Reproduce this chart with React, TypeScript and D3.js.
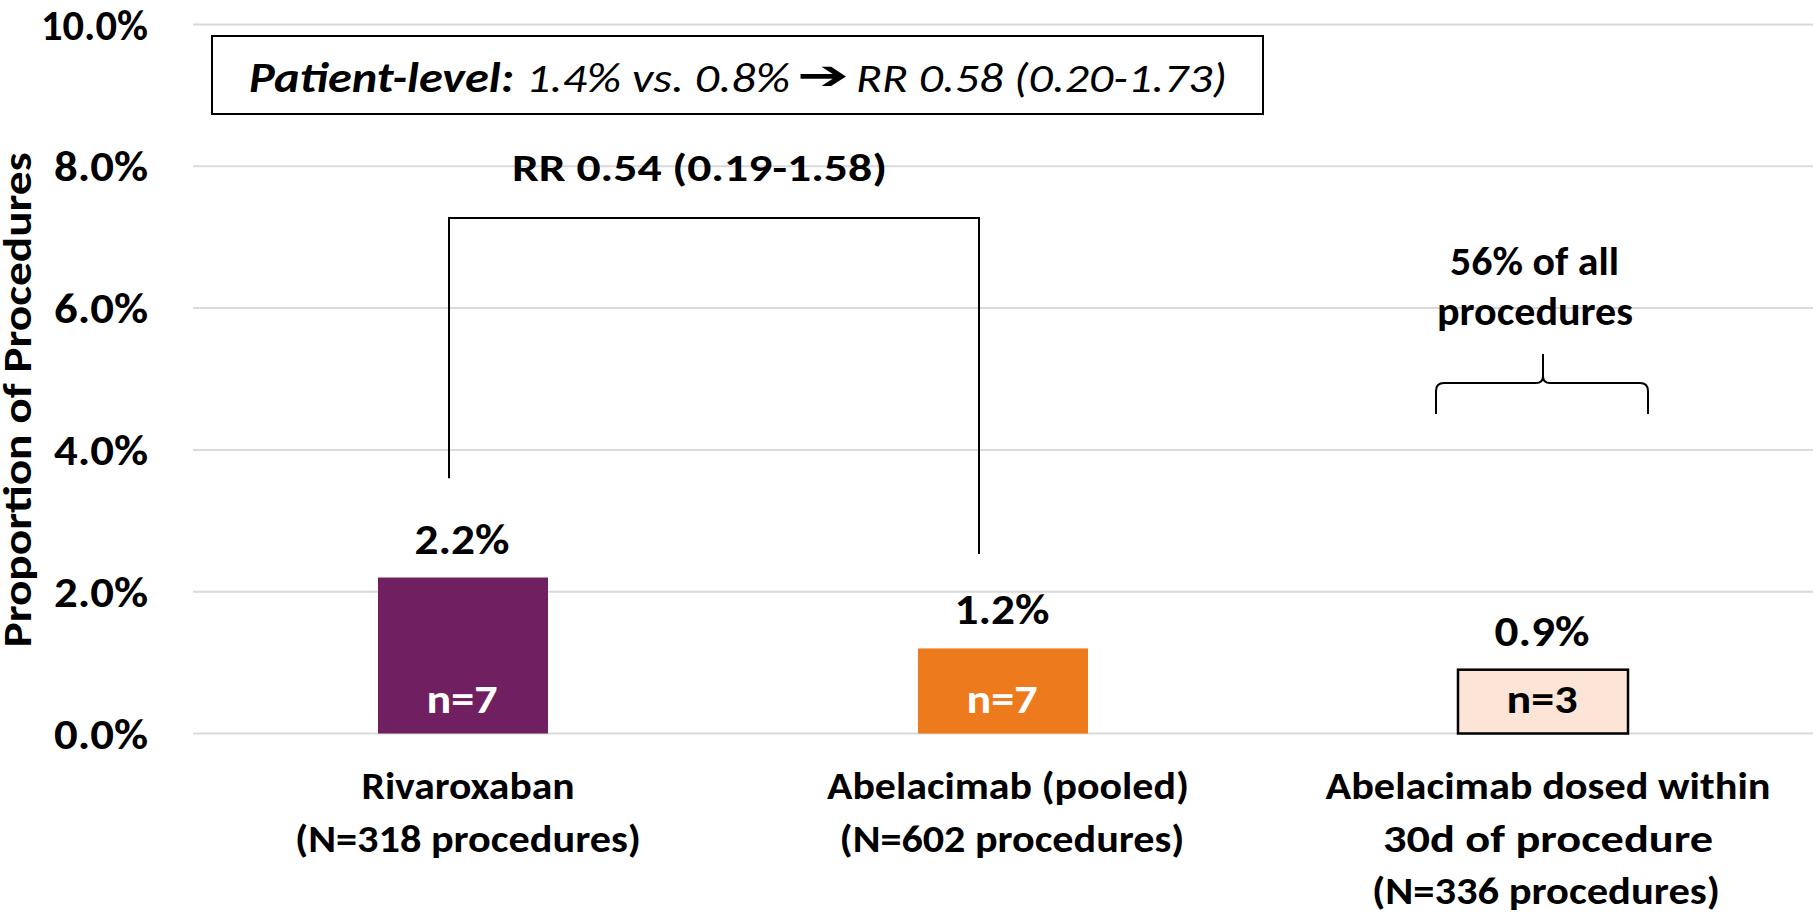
import React, { useEffect } from "react";
import * as d3 from "d3";

// Bleeding events per procedure, by treatment group
const groups = ["riva", "abel-pooled", "abel-30d"];
const groupLabels = [
  ["Rivaroxaban", "(N=318 procedures)"],
  ["Abelacimab (pooled)", "(N=602 procedures)"],
  ["Abelacimab dosed within", "30d of procedure", "(N=336 procedures)"],
];
const rates = [2.2, 1.2, 0.9]; // % of procedures
const eventCounts = [7, 7, 3];
const yTicks = [0, 2, 4, 6, 8, 10];

// ---- presentation ----
const W = 1813;
const H = 913;
const FONT = "Carlito, Lato, 'Open Sans', sans-serif";

const barFills = ["#701F60", "#EE7A1E", "#FCE4D6"];
const barStrokes = ["none", "none", "#000"];
const countColors = ["#fff", "#fff", "#000"];

// rendered text widths, so the narrow face lines up across fonts
const groupLabelWidths = [
  [213, 346],
  [362, 345],
  [445, 330, 348],
];
const groupLabelShift = [
  [5, 5],
  [5, 9],
  [5, 5, 3],
];

type TProps = {
  x: number;
  y: number;
  w?: number;
  size?: number;
  anchor?: "start" | "middle" | "end";
  fill?: string;
  weight?: string;
  italic?: boolean;
  family?: string;
  transform?: string;
  children: React.ReactNode;
};

function T({ x, y, w, size = 40, anchor = "middle", fill = "#000", weight = "bold", italic, family, transform, children }: TProps) {
  return (
    <text
      x={x}
      y={y}
      transform={transform}
      textAnchor={anchor}
      fontSize={size}
      fill={fill}
      fontWeight={weight}
      fontStyle={italic ? "italic" : "normal"}
      fontFamily={family ?? FONT}
      textLength={w}
      lengthAdjust={w ? "spacingAndGlyphs" : undefined}
    >
      {children}
    </text>
  );
}

export default function App() {
  useEffect(() => {
    document.body.style.margin = "0";
    document.body.style.overflow = "hidden";
  }, []);

  const x = d3
    .scaleBand<string>()
    .domain(groups)
    .range([193, 1813])
    .paddingInner(1 - 170 / 540)
    .paddingOuter((1 - 170 / 540) / 2);
  const y = d3.scaleLinear().domain([0, 10]).range([733.5, 24.5]);
  const cx = (i: number) => (x(groups[i]) as number) + x.bandwidth() / 2;
  const fmt = (v: number) => d3.format(".1f")(v) + "%";

  // RR bracket between the first two groups
  const bracketTop = y(7.27);
  const leftLeg = { x: cx(0) - 14, bottom: y(3.6) };
  const rightLeg = { x: cx(1) - 24, bottom: y(2.53) };

  // Curly brace above the third group
  const bx = cx(2);
  const bL = bx - 107;
  const bR = bx + 105;
  const bY = 383;
  const bLeg = 414;
  const bTip = 354;
  const r = 8;
  const bracePath = [
    `M${bL},${bLeg} L${bL},${bY + r} Q${bL},${bY} ${bL + r},${bY}`,
    `L${bx - 7},${bY} Q${bx},${bY} ${bx},${bY - 7} L${bx},${bTip}`,
    `M${bx},${bY - 7} Q${bx},${bY} ${bx + 7},${bY}`,
    `L${bR - r},${bY} Q${bR},${bY} ${bR},${bY + r} L${bR},${bLeg}`,
  ].join(" ");

  return (
    <svg width={W} height={H} style={{ position: "absolute", left: 0, top: 0, background: "#fff" }}>
      {/* gridlines */}
      {yTicks.map((t) => (
        <line key={"g" + t} x1={193} x2={1813} y1={y(t)} y2={y(t)} stroke="#d9d9d9" strokeWidth={2} />
      ))}
      {/* tick labels */}
      {yTicks.map((t) => (
        <T key={"t" + t} x={148} y={y(t) + 15} anchor="end" size={43} w={t >= 10 ? 107 : 94}>
          {fmt(t)}
        </T>
      ))}
      {/* axis title */}
      <T x={0} y={0} size={41} w={495} transform="translate(31,400) rotate(-90)">
        Proportion of Procedures
      </T>

      {/* bars */}
      {rates.map((v, i) => (
        <rect
          key={"b" + i}
          x={x(groups[i])}
          y={y(v)}
          width={x.bandwidth()}
          height={y(0) - y(v)}
          fill={barFills[i]}
          stroke={barStrokes[i]}
          strokeWidth={2.5}
        />
      ))}
      {/* value labels */}
      {rates.map((v, i) => (
        <T key={"v" + i} x={cx(i) - 1} y={y(v) - 24} size={42} w={95}>
          {fmt(v)}
        </T>
      ))}
      {/* event counts */}
      {eventCounts.map((n, i) => (
        <T key={"n" + i} x={cx(i) - 1} y={713} size={41} w={71} fill={countColors[i]}>
          {"n=" + n}
        </T>
      ))}
      {/* category labels */}
      {groupLabels.map((lines, i) =>
        lines.map((ln, j) => (
          <T
            key={"c" + i + "-" + j}
            x={cx(i) + groupLabelShift[i][j]}
            y={799 + j * 52.5}
            size={38}
            w={groupLabelWidths[i][j]}
          >
            {ln}
          </T>
        ))
      )}

      {/* RR bracket */}
      <path
        d={`M${leftLeg.x},${leftLeg.bottom} L${leftLeg.x},${bracketTop} L${rightLeg.x},${bracketTop} L${rightLeg.x},${rightLeg.bottom}`}
        fill="none"
        stroke="#000"
        strokeWidth={2}
      />
      <T x={699.5} y={181} size={39} w={375}>
        RR 0.54 (0.19-1.58)
      </T>

      {/* patient-level box */}
      <rect x={212} y={36} width={1051} height={78} fill="#fff" stroke="#000" strokeWidth={2} />
      <T x={249} y={92} anchor="start" size={42} italic w={265}>
        Patient-level:
      </T>
      <T x={526} y={92} anchor="start" size={42} italic weight="normal" w={264}>
        1.4% vs. 0.8%
      </T>
      <T x={797} y={89} anchor="start" size={40} family="'DejaVu Sans', sans-serif" w={52}>
        ➔
      </T>
      <T x={856} y={92} anchor="start" size={42} italic weight="normal" w={371}>
        RR 0.58 (0.20-1.73)
      </T>

      {/* brace and share note */}
      <path d={bracePath} fill="none" stroke="#000" strokeWidth={2} />
      <T x={1534.5} y={275} size={40} w={169}>
        56% of all
      </T>
      <T x={1535} y={325} size={40} w={196}>
        procedures
      </T>
    </svg>
  );
}
